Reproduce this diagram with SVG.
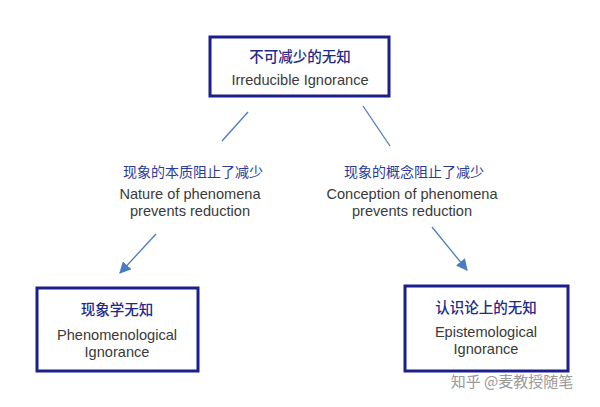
<svg xmlns="http://www.w3.org/2000/svg" width="600" height="407" viewBox="0 0 600 407">
<style>
.box{fill:#fff;stroke:#1a1f8c;stroke-width:3}
.zh{font-family:"Noto Sans CJK SC",sans-serif;font-size:14.5px;fill:#1f2a8a;text-anchor:middle;font-weight:500}
.en{font-family:"Liberation Sans",sans-serif;font-size:14.6px;fill:#3a3a3a;text-anchor:middle}
.lz{font-family:"Noto Sans CJK SC",sans-serif;font-size:14px;fill:#2b3a9a;text-anchor:middle}
.ln{stroke:#4a7dc0;stroke-width:1.3;fill:none}
</style>
<defs><marker id="a" viewBox="0 0 10 10" refX="9" refY="5" markerWidth="9" markerHeight="9" orient="auto"><path d="M0,0L10,5L0,10z" fill="#4a7dc0"/></marker></defs>
<rect width="600" height="407" fill="#fff"/>
<g id="top"><rect class="box" x="210" y="37" width="179" height="59"/><text class="zh" x="300" y="62">不可减少的无知</text><text class="en" x="300" y="85">Irreducible Ignorance</text></g>
<g id="left"><rect class="box" x="37" y="288" width="161" height="83"/><text class="zh" x="117" y="315">现象学无知</text><text class="en" x="117" y="340">Phenomenological</text><text class="en" x="117" y="357">Ignorance</text></g>
<g id="right"><rect class="box" x="405" y="286" width="163" height="85"/><text class="zh" x="486" y="313">认识论上的无知</text><text class="en" x="486" y="337">Epistemological</text><text class="en" x="486" y="354">Ignorance</text></g>
<g id="labels"><text class="lz" x="193" y="177">现象的本质阻止了减少</text><text class="en" x="190" y="199">Nature of phenomena</text><text class="en" x="190" y="216">prevents reduction</text>
<text class="lz" x="414" y="177">现象的概念阻止了减少</text><text class="en" x="412" y="199">Conception of phenomena</text><text class="en" x="412" y="216">prevents reduction</text></g>
<g id="connectors"><path class="ln" d="M248,112L222,141"/><path class="ln" d="M363,106L390,146"/><path class="ln" d="M156,234L120,273" marker-end="url(#a)"/><path class="ln" d="M432,227L467,270" marker-end="url(#a)"/></g>
<text x="512" y="387" style="font-family:'Noto Sans CJK SC',sans-serif;font-size:15px;fill:#999;text-anchor:middle">知乎 @麦教授随笔</text>
</svg>
